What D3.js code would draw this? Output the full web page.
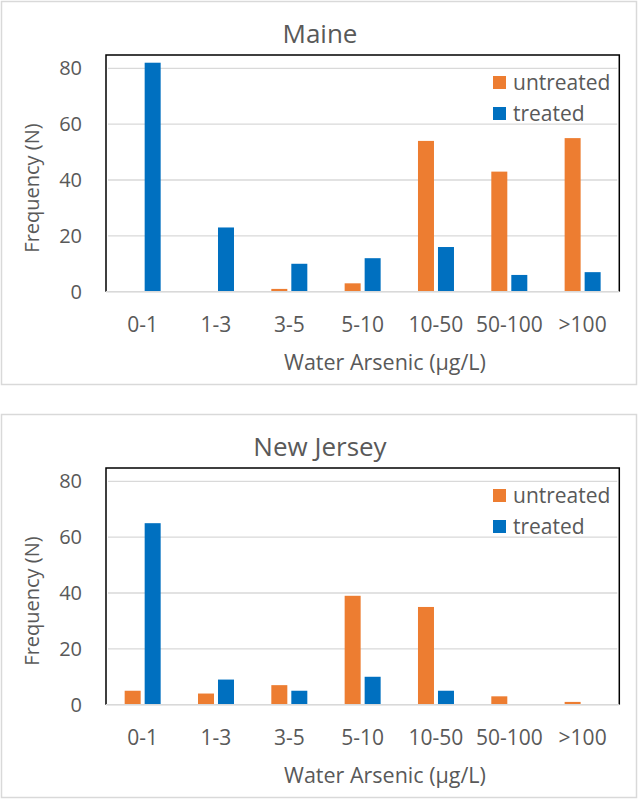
<!DOCTYPE html>
<html>
<head>
<meta charset="utf-8">
<script src="https://cdn.jsdelivr.net/npm/d3@7"></script>
<style>
  html, body { margin: 0; padding: 0; background: #fff; }
  text { font-family: "Open Sans", "Noto Sans", sans-serif; fill: #595959; }
</style>
</head>
<body>
<svg id="chart" width="640" height="800"></svg>
<script>
const categories = ["0-1", "1-3", "3-5", "5-10", "10-50", "50-100", ">100"];
const series = ["untreated", "treated"];
const maineUntreated = [0, 0, 1, 3, 54, 43, 55];
const maineTreated = [82, 23, 10, 12, 16, 6, 7];
const njUntreated = [5, 4, 7, 39, 35, 3, 1];
const njTreated = [65, 9, 5, 10, 5, 0, 0];
const yTicks = [0, 20, 40, 60, 80];
const panelTitles = ["Maine", "New Jersey"];
const xAxisTitle = "Water Arsenic (µg/L)";
const yAxisTitle = "Frequency (N)";
const colors = { untreated: "#ED7D31", treated: "#0070C0" };

const svg = d3.select("#chart");

function drawPanel(offsetY, title, untreated, treated) {
  const g = svg.append("g").attr("transform", `translate(0,${offsetY})`);
  const plotL = 106, plotR = 619.3, plotT = 55, y0 = 291.7, y80 = 68.3;

  // panel border
  g.append("rect").attr("x", 1.5).attr("y", 1.5).attr("width", 635).attr("height", 383)
    .attr("fill", "#fff").attr("stroke", "#D9D9D9").attr("stroke-width", 1.5);

  const x0 = d3.scaleBand().domain(categories).range([plotL, plotR]);
  const groupW = 36;
  const x1 = d3.scaleBand().domain(series).range([0, groupW]).paddingInner(0.2);
  const y = d3.scaleLinear().domain([0, 80]).range([y0, y80]);

  // gridlines
  g.append("g").selectAll("line").data(yTicks).join("line")
    .attr("x1", plotL + 2).attr("x2", plotR - 2)
    .attr("y1", d => y(d)).attr("y2", d => y(d))
    .attr("stroke", "#D9D9D9").attr("stroke-width", 1.3);

  // y tick labels
  g.append("g").selectAll("text").data(yTicks).join("text")
    .attr("x", 82).attr("y", d => y(d)).attr("dy", "0.35em")
    .attr("text-anchor", "end").style("font-size", "20px").text(d => d);

  // bars
  const data = categories.map((c, i) => ({ cat: c, values: [
    { key: "untreated", v: untreated[i] }, { key: "treated", v: treated[i] }] }));
  const groups = g.append("g").selectAll("g").data(data).join("g")
    .attr("transform", d => `translate(${x0(d.cat) + (x0.bandwidth() - groupW) / 2},0)`);
  groups.selectAll("rect").data(d => d.values.filter(e => e.v > 0)).join("rect")
    .attr("x", d => x1(d.key)).attr("width", x1.bandwidth())
    .attr("y", d => y(d.v)).attr("height", d => y(0) - y(d.v))
    .attr("fill", d => colors[d.key]);

  // plot frame: black top/left/right, gray baseline
  g.append("path")
    .attr("d", `M${plotL},${y0} V${plotT} H${plotR} V${y0}`)
    .attr("fill", "none").attr("stroke", "#000").attr("stroke-width", 1.5);
  g.append("line").attr("x1", plotL).attr("x2", plotR).attr("y1", y0).attr("y2", y0)
    .attr("stroke", "#D9D9D9").attr("stroke-width", 1.5);

  // x category labels
  g.append("g").selectAll("text").data(categories).join("text")
    .attr("x", d => x0(d) + x0.bandwidth() / 2).attr("y", 331.5)
    .attr("text-anchor", "middle").style("font-size", "21px").text(d => d);

  // titles
  g.append("text").attr("x", 320).attr("y", 42.5).attr("text-anchor", "middle")
    .style("font-size", "26px").text(title);
  g.append("text").attr("x", 385).attr("y", 370).attr("text-anchor", "middle")
    .style("font-size", "21.5px").text(xAxisTitle);
  g.append("text").attr("transform", "translate(39,188) rotate(-90)")
    .attr("text-anchor", "middle").style("font-size", "20px").text(yAxisTitle);

  // legend
  const leg = g.append("g").selectAll("g").data(series).join("g")
    .attr("transform", (d, i) => `translate(493,${76 + i * 31})`);
  leg.append("rect").attr("width", 13).attr("height", 13).attr("fill", d => colors[d]);
  leg.append("text").attr("x", 20).attr("y", 13.5).style("font-size", "21px").text(d => d);
}

drawPanel(0, panelTitles[0], maineUntreated, maineTreated);
drawPanel(413, panelTitles[1], njUntreated, njTreated);
</script>
</body>
</html>
